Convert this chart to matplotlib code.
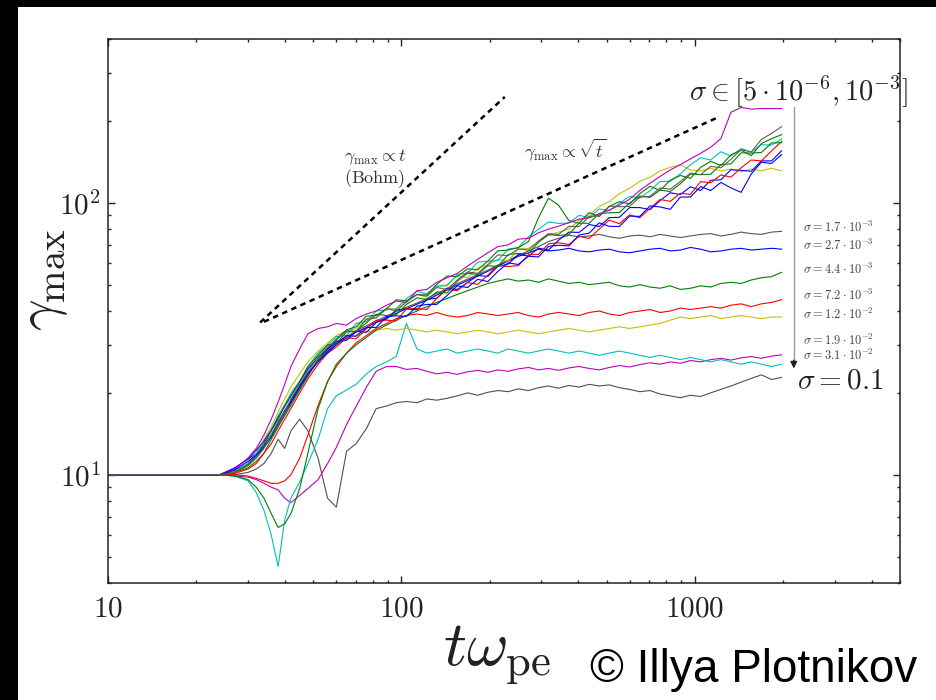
import matplotlib.pyplot as plt
from matplotlib.patches import Rectangle
from matplotlib.ticker import FixedLocator, FixedFormatter, LogLocator, NullFormatter

plt.rcParams["mathtext.fontset"] = "cm"
plt.rcParams["font.family"] = ["DejaVu Serif"]

# time grid shared by every run (t * omega_pe)
T = [10, 24, 27, 30, 32, 34, 36, 38, 40, 42,
     45, 48, 52, 56, 60, 65, 70, 76, 82, 89,
     96, 104, 113, 122, 132, 143, 155, 168, 182, 197,
     213, 231, 250, 271, 293, 317, 343, 372, 403, 436,
     472, 511, 553, 599, 649, 703, 761, 824, 892, 966,
     1046, 1132, 1226, 1327, 1437, 1556, 1685, 1824, 1975]

# runs with sigma in [5e-6, 1e-3] (keep growing)
BAND_BLUE = [10, 10, 10.4, 11.2, 11.8, 12.6, 13.8, 15.5, 17, 18.5,
             21, 23.5, 26, 28, 30.1, 32.5, 32.3, 34.8, 34.8, 38.1,
             38.4, 38.2, 41.7, 42.3, 42.3, 45.6, 49.5, 48.8, 52.3, 51.3,
             55.9, 60.1, 59.3, 63.6, 63.2, 69.1, 69.8, 69.4, 76.1, 77.3,
             84.4, 81.9, 81.8, 89.3, 89.1, 97.4, 96.5, 94.6, 104.9, 105,
             114.7, 110.9, 118.8, 113.4, 109.2, 127.6, 141, 139.5, 150.4]
BAND_BLUE2 = [10, 10, 10.5, 11.5, 12.3, 13.3, 14.6, 16.2, 17.8, 19.5,
              22, 24.5, 27, 29, 31, 31.2, 33.7, 33.4, 36.3, 37.3,
              40.4, 40.7, 40.4, 44.1, 44.6, 48.5, 48, 50.9, 54, 53.6,
              58.3, 59.5, 64.5, 63.7, 68.1, 67, 72.8, 78, 77.8, 83.2,
              81.8, 88.2, 88.4, 96, 96, 94.3, 101.8, 108.9, 107.2, 114.5,
              111, 121, 121.4, 132.3, 131.6, 130.5, 142.5, 142.6, 155.2]
BAND_GREEN = [10, 10, 10.2, 10.6, 11.2, 12, 13.5, 15, 16.5, 18,
              20.5, 23, 26.5, 29, 31.6, 34.1, 35, 38.3, 38.5, 40.8,
              44, 43.6, 46, 45.8, 50.2, 53.8, 53.5, 57.2, 56.7, 61,
              66.6, 67, 68.4, 72, 88, 104, 98, 86, 84, 92,
              89, 97, 101, 99, 108, 115, 111, 121, 126, 123,
              135, 142, 137, 150, 156, 149, 165, 172, 178]
BAND_GREEN2 = [10, 10, 10.2, 10.9, 11.8, 13, 14.5, 16, 18, 19.5,
               22, 25, 27.5, 30, 30.4, 33.5, 33.7, 36.2, 38.9, 38.5,
               38.8, 42.3, 44.7, 44.1, 47, 46.6, 51.5, 55.1, 54.5, 58.7,
               58.3, 64.5, 65.1, 65, 71.6, 76.3, 75.8, 76.4, 84.2, 84,
               91.4, 91.8, 92.1, 99.8, 105.9, 104.6, 111.3, 110, 117.4, 127.4,
               126.9, 127.3, 138.3, 139, 152.6, 152.3, 153, 165.9, 166.4]
BAND_RED = [10, 10, 10.1, 10.5, 11, 12, 13, 14.5, 16, 17.5,
            20, 22.5, 25.5, 28, 29.5, 31.9, 31.6, 34.4, 37, 37,
            36.8, 40.7, 40.9, 40.5, 44.6, 48, 47.5, 50.9, 50.1, 54.2,
            58.9, 58.3, 58.7, 64.3, 64.6, 70.6, 71.3, 70.2, 75.3, 73.9,
            80, 86.4, 83.7, 90.2, 88.1, 95.3, 102.8, 101.2, 108.3, 107.4,
            119.6, 118.4, 126.6, 124.2, 134.4, 143.6, 142.5, 155, 168]
BAND_CYAN = [10, 10, 10.3, 11, 12, 13, 14.5, 16.5, 18, 20,
             22, 25, 28, 30, 32.2, 32.5, 36, 36.6, 40, 40.4,
             40.8, 44.4, 47.3, 46.3, 49.3, 49.5, 54.5, 55.1, 60.5, 61,
             61.3, 67.6, 68.4, 75, 79.9, 85, 84, 84.2, 89.9, 88.2,
             94.8, 93.6, 99.5, 105.6, 104, 110.7, 119.8, 119.9, 127.7, 138,
             146.4, 143.6, 154, 148.5, 158.2, 153.7, 163.5, 162.8, 171.2]
BAND_GRAY = [10, 10, 10.2, 10.8, 11.5, 12.5, 14, 15.5, 17, 19,
             21.5, 24, 27, 29.5, 31.3, 33.8, 33.7, 37.3, 37.7, 40.8,
             40, 43.2, 46, 45.4, 48.8, 48, 52, 55.7, 55, 59.3,
             64.3, 63.9, 67.7, 67, 72.3, 77, 76.5, 81.9, 81.8, 89,
             89.6, 97.2, 96.7, 97, 104.9, 105.6, 113.4, 112.2, 119.7, 128.6,
             126.9, 136.1, 134.4, 144.5, 156.8, 153.7, 171, 179.8, 190.4]
BAND_YELLOW = [10, 10, 10.3, 11, 12, 13.5, 15, 17, 19, 21,
               23.5, 26, 28.5, 30.5, 32.5, 33.8, 34.5, 37.5, 38, 41,
               40.5, 43.5, 46, 45, 49.5, 50, 54, 53, 57.5, 59,
               62, 61, 67.5, 68, 72, 76, 78, 80, 86, 90,
               97, 101, 108, 113, 120, 124, 131, 135, 138, 132,
               131, 134, 131, 133, 130, 133, 131, 134, 131]
BAND_MAGENTA = [10, 10, 10.5, 11.5, 12.5, 14, 16, 18.5, 21.5, 25,
                29, 33, 34.5, 35, 36, 35.5, 37.5, 39, 40, 42,
                43.5, 43, 47.5, 48, 51, 53, 55, 58.5, 62, 65.5,
                69, 70, 73.5, 74, 77.5, 80, 82, 84.5, 87, 88,
                91, 94, 98, 103, 111, 118, 125, 132, 138, 145,
                152, 160, 172, 215, 224, 221, 222, 222, 222]

# runs that saturate
SAT_17E3 = [10, 10, 10.2, 10.9, 11.6, 12.6, 13.8, 15.2, 16.8, 18.3,
            20.8, 23.3, 26.3, 28.8, 30.8, 32.2, 33.8, 35.3, 36.8, 38.3,
            39.8, 41.3, 42.8, 44.4, 46.4, 48.4, 50.4, 52.4, 54.4, 56.5,
            59, 61.5, 64, 66.5, 69, 72, 74, 76, 75, 75.5,
            76.5, 75, 74, 75.5, 76, 75, 76.5, 75.5, 74.5, 75.5,
            76.5, 77, 75.5, 76.5, 78, 77, 76.5, 78, 78.5]
SAT_27E3 = [10, 10, 10.6, 11.4, 12, 12.8, 14, 15.6, 17.2, 18.7,
            21.2, 23.6, 26.2, 28.4, 30.4, 31.8, 33.4, 34.8, 36.4, 37.8,
            39.2, 40.8, 42.4, 43.8, 45.8, 47.8, 49.8, 51.8, 53.8, 56,
            58.5, 61, 63.5, 65.5, 67.5, 66.5, 67, 68, 66.5, 66,
            67, 67.5, 66, 65.5, 66.5, 67.5, 68, 66.5, 67, 68.5,
            67.5, 66, 66.5, 67.5, 68, 67, 67.5, 68, 67.5]
SAT_44E3 = [10, 10, 9.9, 9.6, 9, 8.2, 7.2, 6.4, 6.6, 7.2,
            8.9, 12, 17.5, 22, 25.5, 28, 30, 32, 34, 35.5,
            37, 38.5, 40, 41.5, 43, 44.5, 46, 47.5, 49, 50.5,
            51.5, 52.5, 51.5, 52, 51, 52.5, 51.5, 50.5, 51, 50,
            50.5, 51, 49.5, 49, 50, 49, 48.5, 49.5, 48, 48.5,
            49.5, 49, 50.5, 51, 50.5, 52, 53, 53.5, 55.5]
SAT_72E3 = [10, 10, 10, 9.9, 9.7, 9.5, 9.3, 9.3, 9.5, 10,
            11.5, 14, 18, 22, 25, 28, 30.5, 32.5, 34.5, 36,
            37.5, 38.5, 39, 38.5, 39.5, 38.5, 38, 38.5, 39.5, 39,
            38.5, 39, 39.5, 38.5, 38, 39, 39.5, 39, 38.5, 39.5,
            40, 39, 38.5, 39.5, 40, 40.5, 39.5, 40, 41, 40.5,
            41, 41.5, 41, 42, 42.5, 41.5, 42.5, 43, 44]
SAT_12E2 = [10, 10, 10.2, 10.8, 11.6, 12.6, 13.8, 15.2, 16.8, 18.4,
            21, 23.5, 26.5, 28.5, 30, 31.5, 32.5, 33.5, 34, 34.5,
            34, 34.5, 34, 33.5, 34, 33.5, 33, 33.5, 34, 33.5,
            33, 33.5, 34, 33.5, 33, 33.5, 34, 34.5, 34, 33.5,
            34, 34.5, 35, 34.5, 35, 35.5, 36, 37, 38, 37.5,
            38, 38.5, 37.5, 38, 38.5, 38, 37.5, 38, 38]
SAT_19E2 = [10, 10, 9.9, 9.5, 8.6, 7.4, 6, 4.6, 6.8, 8.2,
            9.4, 11, 13.5, 17.5, 19.5, 20.5, 21.5, 23.5, 25, 26,
            27.2, 36, 29, 28, 28.5, 29, 28, 28.5, 29, 28.5,
            28, 29, 28.5, 28, 28.5, 29, 28.5, 28, 28.5, 28,
            27.5, 28, 28.5, 28, 27.5, 27, 27.5, 27, 26.5, 27,
            26.5, 26, 26.5, 26, 25.5, 26, 25.5, 25, 25.5]
SAT_31E2 = [10, 10, 9.9, 9.8, 9.6, 9.3, 9, 8.8, 8.2, 7.9,
            8.4, 8.9, 9.6, 11, 12.6, 15.3, 17.8, 21, 24, 25,
            25, 24.4, 24.6, 24, 23.5, 23.8, 23.4, 23.9, 24.2, 23.8,
            24.3, 24, 24.5, 24.8, 24.3, 24.6, 24.2, 24.7, 25, 24.6,
            24.3, 24.8, 25.2, 24.9, 25.4, 25.8, 25.5, 26, 25.7, 26.3,
            26, 26.5, 26.8, 26.4, 26.9, 27.2, 26.8, 27.3, 27.6]
SAT_01 = [10, 10, 10, 10.2, 10.5, 11, 12, 13.5, 12.5, 14.5,
          16, 14.5, 11.5, 8.2, 7.6, 12.2, 13, 14.8, 17.5, 17.9,
          18.4, 18.6, 18.4, 19, 18.8, 19.1, 19.5, 20, 19.6, 20.1,
          20.4, 20.2, 20.7, 20.4, 20.9, 21.2, 20.8, 21.3, 21, 21.5,
          21.2, 21.4, 20.9, 20.6, 20.2, 20.4, 19.8, 19.5, 19.2, 19.6,
          19.4, 20, 20.6, 21.2, 21.9, 22.6, 23.3, 22.4, 22.8]

# power-law guide lines (end points)
BOHM_T = [33, 225]
BOHM_G = [36.3, 245]
SQRT_T = [34, 1210]
SQRT_G = [36.5, 207]

SIGMA_LABELS = [r"$\sigma = 1.7\cdot10^{-3}$", r"$\sigma = 2.7\cdot10^{-3}$",
                r"$\sigma = 4.4\cdot10^{-3}$", r"$\sigma = 7.2\cdot10^{-3}$",
                r"$\sigma = 1.2\cdot10^{-2}$", r"$\sigma = 1.9\cdot10^{-2}$",
                r"$\sigma = 3.1\cdot10^{-2}$"]
SIGMA_LABEL_Y = [0.653, 0.621, 0.577, 0.528, 0.494, 0.446, 0.419]

C_B, C_G, C_R = "#0000ff", "#008000", "#ff0000"
C_C, C_M, C_Y, C_K = "#00bfbf", "#bf00bf", "#c8c000", "#555555"

fig = plt.figure(figsize=(9.36, 7.0), dpi=100)
fig.patches.append(Rectangle((0, 0), 18 / 936, 1, transform=fig.transFigure,
                             facecolor="black", edgecolor="none", zorder=10))
fig.patches.append(Rectangle((0, 1 - 7 / 700), 1, 7 / 700, transform=fig.transFigure,
                             facecolor="black", edgecolor="none", zorder=10))

ax = fig.add_axes([108 / 936, 1 - 583 / 700, 792 / 936, 544 / 700])

lw = 0.8
saturated = [
    (SAT_01, "#505050"), (SAT_31E2, C_M), (SAT_19E2, C_C), (SAT_12E2, C_Y),
    (SAT_72E3, C_R), (SAT_44E3, C_G), (SAT_27E3, C_B), (SAT_17E3, C_K),
]
for values, color in saturated:
    ax.plot(T, values, color=color, lw=lw)

band = [
    (BAND_YELLOW, C_Y), (BAND_CYAN, C_C), (BAND_GREEN, C_G), (BAND_BLUE2, C_B),
    (BAND_RED, C_R), (BAND_GREEN2, C_G), (BAND_MAGENTA, C_M), (BAND_BLUE, C_B),
    (BAND_GRAY, "#6a5a55"),
]
for values, color in band:
    ax.plot(T, values, color=color, lw=lw)

ax.plot(BOHM_T, BOHM_G, color="black", lw=1.8, dashes=(2.2, 1.8))
ax.plot(SQRT_T, SQRT_G, color="black", lw=1.8, dashes=(2.2, 1.8))

ax.set_xscale("log")
ax.set_yscale("log")
ax.set_xlim(10, 5000)
ax.set_ylim(4, 400)

ax.xaxis.set_major_locator(FixedLocator([10, 100, 1000]))
ax.xaxis.set_major_formatter(FixedFormatter([r"$10$", r"$100$", r"$1000$"]))
ax.yaxis.set_major_locator(FixedLocator([10, 100]))
ax.yaxis.set_major_formatter(FixedFormatter([r"$10^1$", r"$10^2$"]))
for axis in (ax.xaxis, ax.yaxis):
    axis.set_minor_locator(LogLocator(base=10, subs=range(2, 10)))
    axis.set_minor_formatter(NullFormatter())
ax.tick_params(which="both", direction="in", top=True, right=True, labelsize=21,
               width=1.0, colors="#222222")
ax.tick_params(which="major", length=5)
ax.tick_params(which="minor", length=2.5)
ax.tick_params(axis="x", pad=8)
ax.tick_params(axis="y", pad=5)
for spine in ax.spines.values():
    spine.set_linewidth(1.1)
    spine.set_color("#222222")

ax.text(0.337, 0.783, r"$\gamma_{\rm max} \propto t$", transform=ax.transAxes,
        ha="center", va="center", fontsize=13, color="#333333")
ax.text(0.337, 0.744, r"$\rm (Bohm)$", transform=ax.transAxes,
        ha="center", va="center", fontsize=13, color="#333333")
ax.text(0.577, 0.796, r"$\gamma_{\rm max} \propto \sqrt{t}$", transform=ax.transAxes,
        ha="center", va="center", fontsize=13, color="#333333")
ax.text(0.871, 0.903, r"$\sigma \in [5\cdot10^{-6}, 10^{-3}]$", transform=ax.transAxes,
        ha="center", va="center", fontsize=20.5, color="#222222", clip_on=False)
for label, ypos in zip(SIGMA_LABELS, SIGMA_LABEL_Y):
    ax.text(0.8775, ypos, label, transform=ax.transAxes, ha="left", va="center",
            fontsize=9, color="#444444")
ax.text(0.870, 0.372, r"$\sigma = 0.1$", transform=ax.transAxes, ha="left",
        va="center", fontsize=21, color="#222222")

# arrow running down from the low-sigma group to sigma = 0.1
ax.plot([2173, 2173], [224, 26], color="#999999", lw=1.0)
ax.annotate("", xy=(2173, 24), xytext=(2173, 27),
            arrowprops=dict(arrowstyle="-|>", color="#222222", lw=1.0, mutation_scale=10))

fig.text(43 / 936, 1 - 280 / 700, r"$\gamma_{\rm max}$", rotation=90, ha="center",
         va="center", fontsize=40, color="#222222")
fig.text(497 / 936, 1 - 655 / 700, r"$t\omega_{\rm pe}$", ha="center", va="center",
         fontsize=46, color="#222222")
fig.text(590 / 936, 1 - 682 / 700, "\u00a9 Illya Plotnikov", ha="left", va="baseline",
         fontsize=33, family=["Liberation Sans", "DejaVu Sans"], color="black")

fig.savefig("out.png", dpi=100, facecolor="white")
